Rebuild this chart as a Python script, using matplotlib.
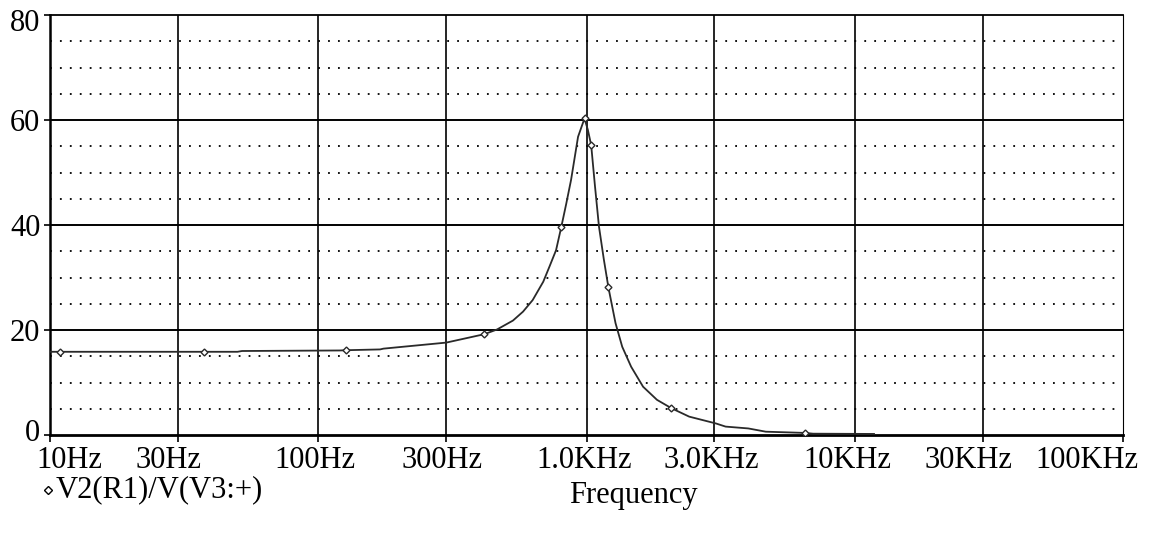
import matplotlib
matplotlib.use("Agg")
import matplotlib.pyplot as plt
import matplotlib.transforms as mtransforms
from matplotlib.lines import Line2D

# curve (Hz, value)
freq = [10, 10.9, 37.4, 50, 52, 120, 127, 170, 175, 300, 416, 464, 532, 580, 630,
        690, 728, 770, 806, 840, 876, 930, 983, 1012, 1041, 1075, 1113, 1160,
        1207, 1283, 1359, 1467, 1625, 1831, 2073, 2414, 3036, 3300, 4010, 4660,
        6500, 7000, 11800]
gain = [15.85, 15.85, 15.85, 15.85, 16.0, 16.1, 16.15, 16.3, 16.45, 17.6, 19.2,
        20.1, 21.8, 23.5, 25.7, 29.2, 32.1, 35.2, 39.7, 44.0, 48.6, 56.8, 60.3,
        58.1, 55.2, 47.5, 39.7, 33.5, 28.1, 21.3, 16.8, 13.0, 9.2, 6.7, 5.1, 3.5,
        2.2, 1.6, 1.25, 0.63, 0.4, 0.25, 0.2]

# diamond markers on the trace
marker_freq = [10.9, 37.4, 127, 416, 806, 983, 1041, 1207, 2073, 6500]
marker_gain = [15.85, 15.85, 16.15, 19.2, 39.7, 60.3, 55.2, 28.1, 5.1, 0.4]

xticks = [10, 30, 100, 300, 1000, 3000, 10000, 30000, 100000]
xlabels = ["10Hz", "30Hz", "100Hz", "300Hz", "1.0KHz", "3.0KHz", "10KHz", "30KHz", "100KHz"]
yticks = [0, 20, 40, 60, 80]
trace_name = "V2(R1)/V(V3:+)"

plt.rcParams['font.family'] = ['Liberation Serif', 'DejaVu Serif']
W, H = 1150, 533
fig = plt.figure(figsize=(W / 100, H / 100), dpi=100)
ax = fig.add_axes([50 / W, 1 - 435 / H, 1073 / W, 420 / H])

ax.set_xscale("log")
ax.set_xlim(10, 100000)
ax.set_ylim(0, 80)

# grid: solid at major ticks, dotted every 5
for x in xticks[1:-1]:
    ax.axvline(x, color="black", lw=1.2, zorder=1)
for y in [20, 40, 60]:
    ax.axhline(y, color="black", lw=1.4, zorder=1)
for y in range(5, 80, 5):
    if y % 20:
        ax.plot([10, 95000], [y, y], color="black", lw=1.3,
                linestyle=(0, (1, 4.5)), zorder=1)

ax.plot(freq, gain, color="#2a2a2a", lw=1.3, zorder=3)
ax.plot(marker_freq, marker_gain, linestyle="none", marker="D", markersize=3.5,
        markerfacecolor="white", markeredgecolor="#2a2a2a", markeredgewidth=1.0, zorder=4)

ax.set_xticks(xticks)
ax.set_xticklabels(xlabels)
ax.xaxis.set_minor_locator(matplotlib.ticker.NullLocator())
ax.set_yticks(yticks)
ax.tick_params(axis="x", direction="out", length=5, width=1.2, pad=3, labelsize=22)
ax.tick_params(axis="y", direction="out", length=4, width=1.2, pad=3, labelsize=22)

# nudge the x labels like the original layout
offsets = [19, -9, -3, -4, -2, -3, -7, -14, -36]
for lab, dx in zip(ax.get_xticklabels(), offsets):
    lab.set_transform(lab.get_transform() + mtransforms.ScaledTranslation(dx / 100, 0, fig.dpi_scale_trans))
ylabs = ax.get_yticklabels()
for lab, dy in ((ylabs[0], 5), (ylabs[-1], -5)):
    lab.set_transform(lab.get_transform() + mtransforms.ScaledTranslation(0, dy / 100, fig.dpi_scale_trans))

ax.spines["bottom"].set_linewidth(2.0)
ax.spines["left"].set_linewidth(1.8)
ax.spines["top"].set_linewidth(1.3)
ax.spines["right"].set_linewidth(0.8)

# trace label with diamond
fig.add_artist(Line2D([48 / W], [1 - 490 / H], marker="D", markersize=4,
                      markerfacecolor="white", markeredgecolor="black",
                      markeredgewidth=1.0, transform=fig.transFigure))
fig.text(56 / W, 1 - 490 / H, trace_name, fontsize=22, va="center", ha="left")
fig.text(633 / W, 1 - 495 / H, "Frequency", fontsize=22, va="center", ha="center")

fig.savefig("out.png", dpi=100, facecolor="white")
